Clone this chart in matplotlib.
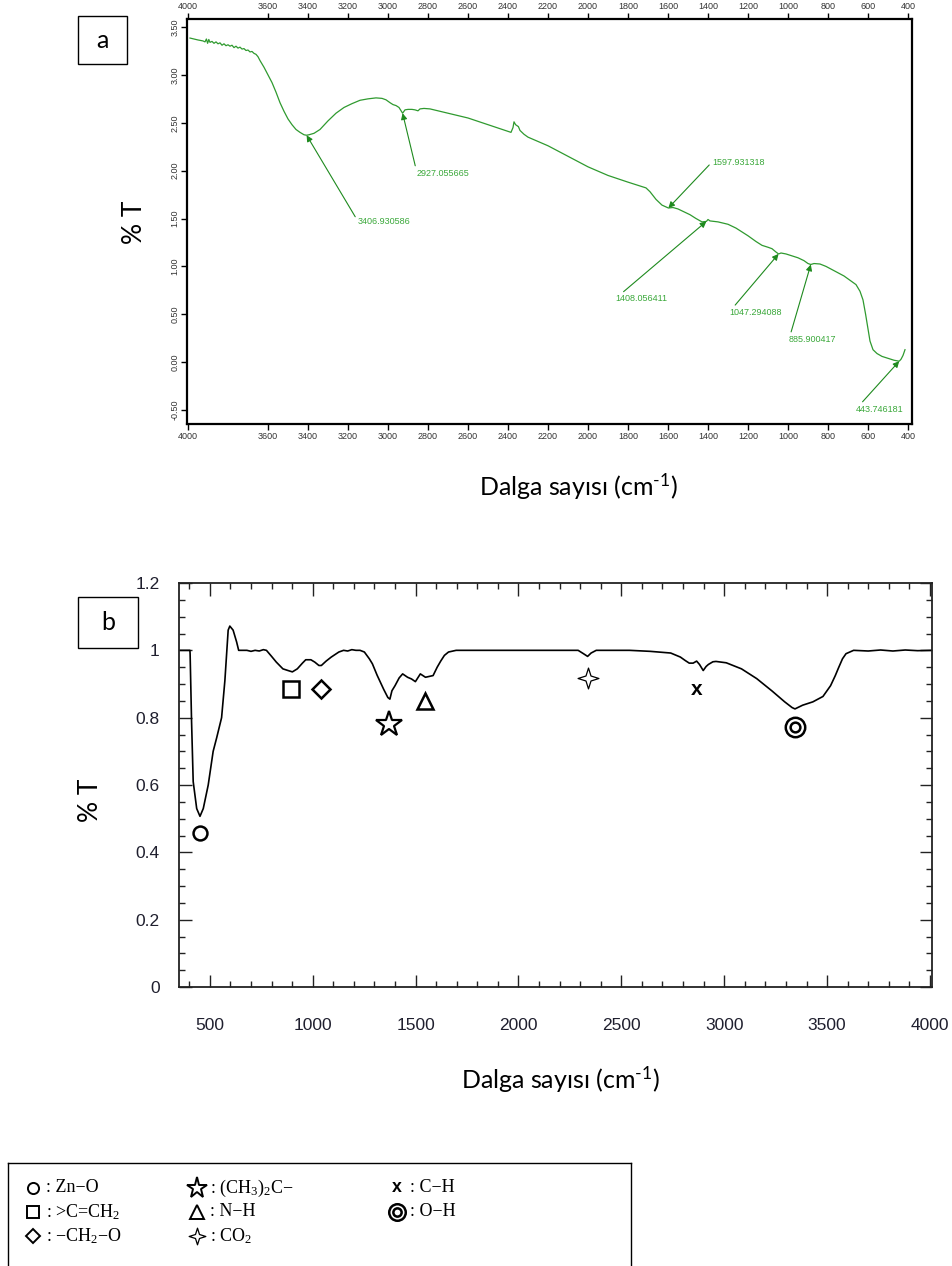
import numpy as np
import matplotlib
matplotlib.use("Agg")
import matplotlib.pyplot as plt
from matplotlib.path import Path
from matplotlib.patches import Rectangle
from matplotlib.ticker import MultipleLocator, FixedLocator, FormatStrFormatter

plt.rcParams["mathtext.default"] = "regular"

# ---------------- data: spectrum (a) ----------------
wn_a = [3990, 3950, 3925, 3915, 3908, 3902, 3896, 3890, 3880, 3870, 3860, 3850,
        3840, 3830, 3820, 3810, 3800, 3790, 3780, 3770, 3760, 3750, 3740, 3730,
        3720, 3710, 3700, 3690, 3680, 3670, 3660, 3650, 3640, 3620, 3600, 3580,
        3560, 3540, 3520, 3500, 3480, 3460, 3440, 3420, 3407, 3395, 3370, 3340,
        3300, 3260, 3220, 3180, 3140, 3100, 3060, 3030, 3010, 2990, 2975, 2960,
        2945, 2927, 2915, 2900, 2880, 2865, 2850, 2840, 2820, 2790, 2700, 2600,
        2500, 2400, 2385, 2375, 2370, 2362, 2355, 2348, 2340, 2320, 2300, 2200,
        2100, 2000, 1900, 1800, 1740, 1710, 1690, 1660, 1630, 1598, 1575, 1550,
        1520, 1490, 1460, 1430, 1408, 1400, 1390, 1350, 1300, 1260, 1230, 1200,
        1160, 1130, 1100, 1080, 1060, 1047, 1035, 1010, 980, 950, 920, 900,
        886, 870, 840, 810, 770, 720, 680, 660, 640, 625, 612, 600,
        590, 575, 555, 530, 500, 470, 444, 435, 425, 415]
t_a = [3.385, 3.365, 3.355, 3.345, 3.375, 3.330, 3.370, 3.340, 3.350, 3.330, 3.345, 3.325,
       3.335, 3.310, 3.325, 3.305, 3.315, 3.300, 3.310, 3.285, 3.300, 3.280, 3.290, 3.270,
       3.275, 3.255, 3.260, 3.240, 3.245, 3.225, 3.215, 3.190, 3.150, 3.080, 3.000, 2.920,
       2.820, 2.710, 2.620, 2.540, 2.480, 2.430, 2.400, 2.375, 2.370, 2.375, 2.390, 2.430,
       2.520, 2.600, 2.660, 2.700, 2.735, 2.750, 2.760, 2.755, 2.740, 2.710, 2.690, 2.680,
       2.660, 2.600, 2.635, 2.640, 2.640, 2.635, 2.625, 2.645, 2.650, 2.645, 2.600, 2.550,
       2.480, 2.410, 2.400, 2.450, 2.510, 2.480, 2.470, 2.460, 2.420, 2.380, 2.350, 2.260,
       2.150, 2.040, 1.950, 1.880, 1.840, 1.820, 1.780, 1.700, 1.640, 1.610, 1.615, 1.600,
       1.570, 1.540, 1.500, 1.465, 1.470, 1.490, 1.475, 1.465, 1.440, 1.400, 1.360, 1.320,
       1.260, 1.220, 1.200, 1.185, 1.150, 1.130, 1.140, 1.130, 1.110, 1.090, 1.060, 1.030,
       1.020, 1.030, 1.025, 1.000, 0.955, 0.900, 0.840, 0.810, 0.740, 0.650, 0.500, 0.350,
       0.220, 0.130, 0.090, 0.060, 0.040, 0.020, 0.010, 0.030, 0.070, 0.130]

peaks_a = [3406.930586, 2927.055665, 1597.931318, 1408.056411,
           1047.294088, 885.900417, 443.746181]
# where each peak label is written (wavenumber, %T)
label_at_a = [(3150, 1.47), (2855, 1.975), (1380, 2.09), (1865, 0.66),
              (1295, 0.52), (995, 0.24), (660, -0.49)]

xticks_a = [4000, 3600, 3400, 3200, 3000, 2800, 2600, 2400, 2200, 2000,
            1800, 1600, 1400, 1200, 1000, 800, 600, 400]
yticks_a = [-0.5, 0.0, 0.5, 1.0, 1.5, 2.0, 2.5, 3.0, 3.5]

# ---------------- data: spectrum (b) ----------------
wn_b = [355, 403, 404, 411, 419, 436, 452, 468, 492, 516, 533, 557, 573, 589, 597,
        613, 630, 640, 680, 700, 720, 740, 760, 775, 800, 823, 855, 880, 901, 925,
        950, 966, 991, 1010, 1030, 1042, 1065, 1090, 1127, 1150, 1170, 1190, 1210,
        1230, 1251, 1275, 1290, 1313, 1345, 1365, 1375, 1385, 1400, 1420, 1437,
        1461, 1480, 1499, 1523, 1548, 1570, 1585, 1605, 1622, 1640, 1660, 1697,
        2290, 2316, 2336, 2353, 2378, 2540, 2640, 2740, 2787, 2810, 2830, 2849,
        2866, 2880, 2898, 2912, 2923, 2945, 2960, 3010, 3084, 3158, 3233, 3294,
        3330, 3344, 3381, 3431, 3480, 3517, 3540, 3555, 3575, 3592, 3629, 3700,
        3760, 3820, 3880, 3940, 4010]
t_b = [1.000, 1.000, 0.990, 0.790, 0.610, 0.530, 0.507, 0.530, 0.600, 0.700, 0.740,
       0.800, 0.910, 1.060, 1.072, 1.060, 1.025, 1.000, 1.000, 0.997, 1.000, 0.998,
       1.002, 1.000, 0.982, 0.965, 0.945, 0.940, 0.936, 0.945, 0.962, 0.972, 0.972,
       0.965, 0.955, 0.955, 0.968, 0.980, 0.995, 1.000, 0.998, 1.002, 1.000, 1.000,
       0.995, 0.975, 0.960, 0.926, 0.884, 0.860, 0.855, 0.880, 0.895, 0.918, 0.930,
       0.920, 0.915, 0.907, 0.930, 0.920, 0.923, 0.925, 0.950, 0.968, 0.985, 0.995,
       1.000, 1.000, 0.990, 0.982, 0.992, 1.000, 1.000, 0.997, 0.992, 0.980, 0.970,
       0.962, 0.962, 0.968, 0.958, 0.940, 0.952, 0.958, 0.966, 0.967, 0.963, 0.945,
       0.916, 0.879, 0.847, 0.830, 0.826, 0.837, 0.847, 0.863, 0.895, 0.925, 0.947,
       0.975, 0.990, 1.000, 0.998, 1.001, 0.998, 1.001, 0.999, 1.000]

groups = ["Zn\u2212O", ">C=CH$_2$", "\u2212CH$_2$\u2212O", "(CH$_3$)$_2$C\u2212",
          "N\u2212H", "CO$_2$", "C\u2212H", "O\u2212H"]
group_wn = [452, 892, 1040, 1370, 1545, 2340, 2865, 3345]
group_t = [0.457, 0.885, 0.885, 0.782, 0.850, 0.918, 0.885, 0.772]

# ---------------- figure ----------------
W, H = 952, 1266
fig = plt.figure(figsize=(W / 100, H / 100), dpi=100)
fig.patch.set_facecolor("white")


def fx(px):
    return px / W


def fy(py):
    return 1 - py / H


green = "#2f9a2f"
green_txt = "#3aa83a"
green_arrow = "#1e8a1e"
xlabel_text = "Dalga sayısı (cm$^{\u2010 1}$)"

# ---------- panel a ----------
ax1 = fig.add_axes([fx(187), fy(424), fx(912) - fx(187), fy(19) - fy(424)])
ax1.plot(wn_a, t_a, color=green, lw=0.9)
ax1.set_xlim(4005, 380)
ax1.set_ylim(-0.646, 3.584)
ax1.xaxis.set_major_locator(FixedLocator(xticks_a))
ax1.yaxis.set_major_locator(FixedLocator(yticks_a))
ax1.yaxis.set_major_formatter(FormatStrFormatter("%.2f"))
ax1.tick_params(axis="x", which="both", top=True, bottom=True, labeltop=True,
                labelbottom=True, direction="out", length=4, width=1,
                labelsize=6.5, labelcolor="#333333", pad=1.5)
ax1.tick_params(axis="y", direction="out", length=4, width=1, labelsize=6.5,
                labelcolor="#333333", pad=1.5, labelrotation=90)
for lab in ax1.get_yticklabels():
    lab.set_va("center")
for lab in ax1.get_xticklabels() + ax1.get_yticklabels():
    lab.set_fontfamily("Liberation Sans")
for side in ["top", "right", "left", "bottom"]:
    ax1.spines[side].set_linewidth(1.6)
    ax1.spines[side].set_color("black")

wn_inc = np.array(wn_a[::-1], dtype=float)
t_inc = np.array(t_a[::-1], dtype=float)
for pk, (lx, ly) in zip(peaks_a, label_at_a):
    ty = float(np.interp(pk, wn_inc, t_inc))
    ax1.annotate(f"{pk:.6f}", xy=(pk, ty), xytext=(lx, ly),
                 fontsize=6.5, color=green_txt, family="Liberation Sans",
                 ha="left", va="center",
                 arrowprops=dict(arrowstyle="-|>", color=green_arrow, lw=0.8,
                                 mutation_scale=9, shrinkA=0, shrinkB=0,
                                 relpos=(0.0, 0.5)))

fig.text(fx(135), fy(222), "% T", rotation=90, fontsize=19, family="Lato",
         ha="center", va="center")
fig.text(fx(578), fy(487), xlabel_text, fontsize=18,
         family=["Lato", "DejaVu Sans"], ha="center", va="center")

# ---------- panel b ----------
ax2 = fig.add_axes([fx(179), fy(987), fx(932) - fx(179), fy(583) - fy(987)])
ax2.plot(wn_b, t_b, color="black", lw=1.2)
ax2.set_xlim(350, 4010)
ax2.set_ylim(0, 1.2)
ax2.xaxis.set_major_locator(MultipleLocator(500))
ax2.xaxis.set_minor_locator(MultipleLocator(100))
ax2.yaxis.set_major_locator(MultipleLocator(0.2))
ax2.yaxis.set_minor_locator(MultipleLocator(0.05))
ax2.yaxis.set_major_formatter(plt.FuncFormatter(lambda v, p: f"{v:g}"))
ax2.tick_params(which="both", direction="in", top=True, right=True, width=1,
                color="#222222")
ax2.tick_params(which="major", length=9)
ax2.tick_params(which="minor", length=4.5)
ax2.tick_params(axis="x", which="major", labelsize=12.5, labelcolor="#1f1f2e", pad=22)
ax2.tick_params(axis="y", which="major", labelsize=12.5, labelcolor="#1f1f2e", pad=14)
for lab in ax2.get_xticklabels() + ax2.get_yticklabels():
    lab.set_fontfamily("Liberation Sans")
for side in ["top", "right", "left", "bottom"]:
    ax2.spines[side].set_linewidth(1.3)
    ax2.spines[side].set_color("#222222")

sparkle = Path([(0, 1), (0.24, 0.24), (1, 0), (0.24, -0.24), (0, -1),
                (-0.24, -0.24), (-1, 0), (-0.24, 0.24), (0, 1)],
               [Path.MOVETO] + [Path.LINETO] * 7 + [Path.CLOSEPOLY])

marker_style = [
    dict(marker="o", ms=10, mew=1.8),
    dict(marker="s", ms=11, mew=1.8),
    dict(marker="D", ms=9.5, mew=1.8),
    dict(marker="*", ms=19, mew=1.6),
    dict(marker="^", ms=12, mew=1.8),
    dict(marker=sparkle, ms=15, mew=0.9),
    None,
    "bullseye",
]


def draw_symbol(ax, x, y, style, scale=1.0):
    if style is None:
        ax.text(x, y, "x", fontsize=15 * scale, fontweight="bold",
                family="Liberation Sans", ha="center", va="center")
    elif style == "bullseye":
        ax.plot([x], [y], marker="o", ms=14 * scale, mew=1.8, mfc="white",
                mec="black", ls="none")
        ax.plot([x], [y], marker="o", ms=7 * scale, mew=1.8, mfc="white",
                mec="black", ls="none")
    else:
        ax.plot([x], [y], marker=style["marker"], ms=style["ms"] * scale,
                mew=style["mew"], mfc="white", mec="black", ls="none")


for gx, gy, st in zip(group_wn, group_t, marker_style):
    draw_symbol(ax2, gx, gy, st)

fig.text(fx(90), fy(800), "% T", rotation=90, fontsize=19, family="Lato",
         ha="center", va="center")
fig.text(fx(560), fy(1080), xlabel_text, fontsize=18,
         family=["Lato", "DejaVu Sans"], ha="center", va="center")

# ---------- panel letters ----------
for (x0, y0, x1, y1), letter in [((78, 16, 127, 64), "a"), ((78, 597, 138, 648), "b")]:
    fig.patches.append(Rectangle((fx(x0), fy(y1)), fx(x1) - fx(x0), fy(y0) - fy(y1),
                                 transform=fig.transFigure, fill=False,
                                 ec="black", lw=1.0))
    fig.text(fx((x0 + x1) / 2), fy((y0 + y1) / 2), letter, fontsize=18,
             family="Lato", ha="center", va="center")

# ---------- symbol key ----------
lax = fig.add_axes([fx(8), 0, fx(631) - fx(8), fy(1163)])
lax.set_xlim(8, 631)
lax.set_ylim(1266, 1163)
lax.set_xticks([])
lax.set_yticks([])
lax.spines["bottom"].set_visible(False)
for side in ["top", "left", "right"]:
    lax.spines[side].set_linewidth(1.0)

key_cols = [33, 33, 33, 197, 197, 197, 397, 397]
key_rows = [1188, 1212, 1236, 1188, 1212, 1236, 1188, 1212]
for name, st, kx, ky in zip(groups, marker_style, key_cols, key_rows):
    if st is None or st == "bullseye":
        draw_symbol(lax, kx, ky, st, scale=0.85)
    else:
        s = dict(st)
        s["mew"] = 1.4 if st["marker"] is not sparkle else 0.9
        draw_symbol(lax, kx, ky, s, scale=0.8)
    lax.text(kx + 13, ky, ": " + name, fontsize=13, family="Liberation Serif",
             ha="left", va="center")

fig.savefig("out.png", dpi=100)
